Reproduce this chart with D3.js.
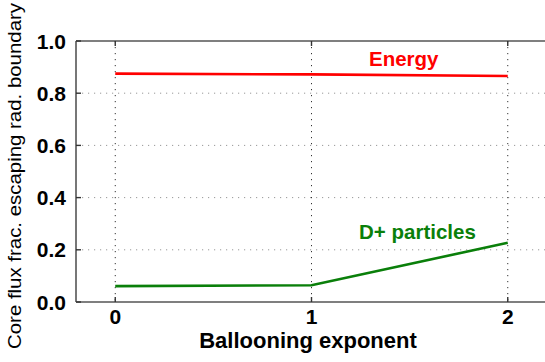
<!DOCTYPE html>
<html><head><meta charset="utf-8">
<script src="https://cdn.jsdelivr.net/npm/d3@7"></script>
<style>body{margin:0;background:#fff}svg{display:block}</style>
</head><body>
<script>
const xValues = [0, 1, 2];
const energy = [0.875, 0.872, 0.866];
const particles = [0.061, 0.064, 0.227];
const xTicks = [0, 1, 2];
const yTicks = [0, 0.2, 0.4, 0.6, 0.8, 1.0];
const seriesLabels = [
  {text: "Energy", x: 1.47, y: 0.905, color: "#ff0000"},
  {text: "D+ particles", x: 1.54, y: 0.24, color: "#0a7f0a"}
];

const W = 545, H = 362;
const svg = d3.select("body").append("svg").attr("width", W).attr("height", H);
const x = d3.scaleLinear().domain([-0.2, 2.2]).range([76, 547]);
const y = d3.scaleLinear().domain([0, 1]).range([302, 41]);
const font = "'Liberation Sans', Arial, Helvetica, sans-serif";

// grid
svg.append("g").selectAll("line").data(yTicks.filter(d => d > 0 && d < 1)).join("line")
  .attr("x1", x.range()[0]).attr("x2", W).attr("y1", d => y(d)).attr("y2", d => y(d))
  .attr("stroke", "#999").attr("stroke-width", 1).attr("stroke-dasharray", "1.2,4.8");
svg.append("g").selectAll("line").data(xTicks).join("line")
  .attr("x1", d => x(d)).attr("x2", d => x(d)).attr("y1", y(1)).attr("y2", y(0))
  .attr("stroke", "#333").attr("stroke-width", 1).attr("stroke-dasharray", "1.2,4.8");

// frame
const frame = svg.append("g").attr("stroke", "#555").attr("stroke-width", 1.6).attr("fill", "none");
frame.append("line").attr("x1", x.range()[0]).attr("x2", W).attr("y1", y(1)).attr("y2", y(1));
frame.append("line").attr("x1", x.range()[0]).attr("x2", W).attr("y1", y(0)).attr("y2", y(0));
frame.append("line").attr("x1", x.range()[0]).attr("x2", x.range()[0]).attr("y1", y(1)).attr("y2", y(0));

// inward ticks
const ticks = svg.append("g").attr("stroke", "#333").attr("stroke-width", 1.4);
yTicks.forEach(d => {
  ticks.append("line").attr("x1", x.range()[0]).attr("x2", x.range()[0] + 5).attr("y1", y(d)).attr("y2", y(d));
});
xTicks.forEach(d => {
  ticks.append("line").attr("x1", x(d)).attr("x2", x(d)).attr("y1", y(0)).attr("y2", y(0) - 5);
  ticks.append("line").attr("x1", x(d)).attr("x2", x(d)).attr("y1", y(1)).attr("y2", y(1) + 5);
});

// tick labels
svg.append("g").selectAll("text").data(yTicks).join("text")
  .attr("x", 66).attr("y", d => y(d) + 7.5).attr("text-anchor", "end")
  .attr("font-family", font).attr("font-weight", "bold").attr("font-size", 21)
  .attr("fill", "#000").text(d => d.toFixed(1));
svg.append("g").selectAll("text").data(xTicks).join("text")
  .attr("x", d => x(d)).attr("y", 324).attr("text-anchor", "middle")
  .attr("font-family", font).attr("font-weight", "bold").attr("font-size", 21)
  .attr("fill", "#000").text(d => d);

// axis titles
svg.append("text").attr("x", 308).attr("y", 348).attr("text-anchor", "middle")
  .attr("font-family", font).attr("font-weight", "bold").attr("font-size", 22)
  .attr("fill", "#000").text("Ballooning exponent");
svg.append("text").attr("transform", "translate(21,176) rotate(-90)").attr("text-anchor", "middle")
  .attr("font-family", font).attr("font-size", 17.5).attr("textLength", 346).attr("lengthAdjust", "spacingAndGlyphs")
  .attr("fill", "#000").text("Core flux frac. escaping rad. boundary");

// lines
const line = d3.line().x((d, i) => x(xValues[i])).y(d => y(d));
svg.append("path").attr("d", line(energy)).attr("fill", "none").attr("stroke", "#ff0000").attr("stroke-width", 2.6);
svg.append("path").attr("d", line(particles)).attr("fill", "none").attr("stroke", "#0a7f0a").attr("stroke-width", 2.6);

// series labels
svg.append("g").selectAll("text").data(seriesLabels).join("text")
  .attr("x", d => x(d.x)).attr("y", d => y(d.y)).attr("text-anchor", "middle")
  .attr("font-family", font).attr("font-weight", "bold").attr("font-size", 20.5)
  .attr("fill", d => d.color).text(d => d.text);
</script>
</body></html>
